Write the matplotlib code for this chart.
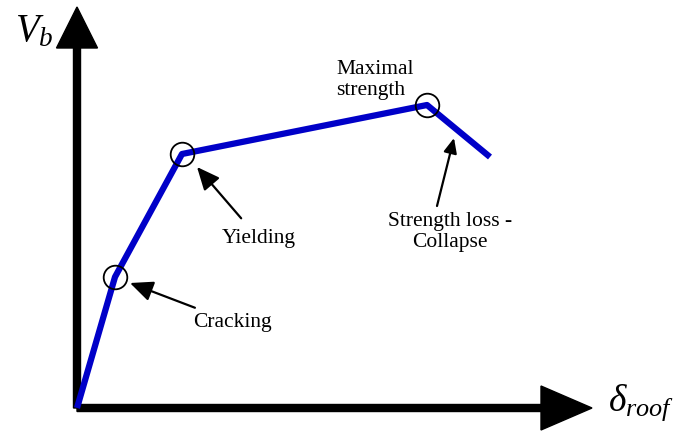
import matplotlib.pyplot as plt

plt.rcParams['mathtext.fontset'] = 'custom'
plt.rcParams['mathtext.rm'] = 'Liberation Serif'
plt.rcParams['mathtext.it'] = 'Liberation Serif:italic'

# pushover curve: roof drift vs base shear (arbitrary units)
drift = [0, 38, 105, 350, 413]
shear = [0, 131, 254, 303, 251]
stage_idx = [1, 2, 3]

fig = plt.figure(figsize=(6.77, 4.34), dpi=100)
ax = fig.add_axes([0, 0, 1, 1])
ax.set_xlim(-77, 600)
ax.set_ylim(-26, 408)
ax.axis('off')

# axes drawn as thick arrows
ax.arrow(0, 0, 0, 360, width=7, head_width=41, head_length=41,
         length_includes_head=False, color='black', zorder=2)
ax.arrow(0, 0, 464, 0, width=7, head_width=44, head_length=51,
         length_includes_head=False, color='black', zorder=2)

ax.plot(drift, shear, color='#0000C8', lw=4.5, solid_capstyle='butt', zorder=3)
ax.plot([drift[i] for i in stage_idx], [shear[i] for i in stage_idx], 'o',
        ms=17, mfc='none', mec='black', mew=1.3, zorder=4)

ax.text(-62, 378, r'$V_b$', fontsize=28, ha='left', va='center')
ax.text(531, 5, r'$\delta_{roof}$', fontsize=27, ha='left', va='center')

font = dict(family='Liberation Serif', fontsize=15.5)
arrow = dict(arrowstyle='-|>,head_length=0.9,head_width=0.4', color='black', lw=1.6)

ax.annotate('Cracking', xy=(53, 125), xytext=(116, 86), ha='left', va='center',
            arrowprops=dict(arrow, shrinkA=4, shrinkB=0), **font)
ax.annotate('Yielding', xy=(120, 241), xytext=(145, 169), ha='left', va='center',
            arrowprops=dict(arrow, shrinkA=8, shrinkB=0), **font)
ax.annotate('', xy=(377, 270), xytext=(360, 202),
            arrowprops=dict(arrow, shrinkA=0, shrinkB=0))
ax.text(373, 176, 'Strength loss -\nCollapse', ha='center', va='center',
        multialignment='center', linespacing=1.1, **font)
ax.text(259, 328, 'Maximal\nstrength', ha='left', va='center', linespacing=1.1, **font)

fig.savefig('out.png', dpi=100)
